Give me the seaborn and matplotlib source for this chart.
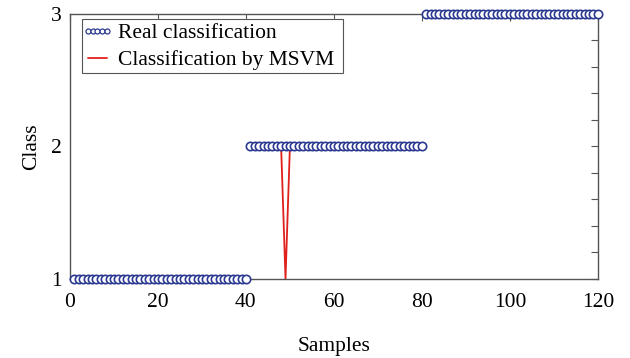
import matplotlib
matplotlib.use("Agg")
import matplotlib.pyplot as plt
import seaborn as sns
from matplotlib.lines import Line2D
from matplotlib.patches import Rectangle
from matplotlib.legend_handler import HandlerLine2D
from matplotlib.ticker import MultipleLocator, FixedLocator

# Data
samples = list(range(1, 121))
real_class = [1] * 40 + [2] * 40 + [3] * 40
msvm_class = [1] * 40 + [2] * 8 + [1] + [2] * 31 + [3] * 40
# the MSVM output is drawn as one line per true-class block
block = [1] * 40 + [2] * 40 + [3] * 40

sns.set_theme(style="white")
plt.rcParams['font.family'] = ['Liberation Serif', 'DejaVu Serif']
plt.rcParams['text.color'] = 'black'
plt.rcParams['axes.labelcolor'] = 'black'

fig = plt.figure(figsize=(6.3, 3.58), dpi=100)
ax = fig.add_axes([0.111, 0.221, 0.838, 0.740])

sns.lineplot(x=samples, y=msvm_class, units=block, estimator=None, ax=ax,
             color='#e0201b', linewidth=1.3, zorder=2)
sns.lineplot(x=samples, y=real_class, ax=ax, color='#2b3990', linestyle='',
             marker='o', markersize=6, markerfacecolor='white',
             markeredgecolor='#2b3990', markeredgewidth=1.2,
             zorder=3, clip_on=False)

ax.set_xlim(0, 120)
ax.set_ylim(1, 3)
ax.xaxis.set_major_locator(MultipleLocator(20))
ax.yaxis.set_major_locator(FixedLocator([1, 2, 3]))
ax.yaxis.set_minor_locator(MultipleLocator(0.2))
ax.tick_params(which='both', direction='in', top=True, right=True,
               length=5, width=0.8, color='#555555', labelsize=15.5,
               labelcolor='black', pad=10)
ax.tick_params(axis='y', pad=6)
for s in ax.spines.values():
    s.set_color('#555555')
    s.set_linewidth(1.0)

ax.set_xlabel('Samples', fontsize=15.5, labelpad=18)
ax.set_ylabel('Class', fontsize=15.5, labelpad=7)

# legend: rebuild handles from the two drawn series, frame drawn separately
line_real = ax.lines[-1]
line_msvm = ax.lines[0]
leg = ax.legend([line_real, line_msvm], ['Real classification', 'Classification by MSVM'],
                loc='upper left', bbox_to_anchor=(0.034, 0.966), numpoints=5,
                handlelength=0.88, handletextpad=0.51, fontsize=15.5,
                frameon=False, borderpad=0.0, labelspacing=0.34, borderaxespad=0.0,
                handler_map={Line2D: HandlerLine2D(marker_pad=0)})
leg.set_zorder(5)
leg.legend_handles[0].set_markersize(3.6)
leg.legend_handles[0].set_markeredgewidth(0.9)
ax.add_patch(Rectangle((0.0227, 0.7774), 0.4943, 0.2038, transform=ax.transAxes,
                       facecolor='white', edgecolor='#555555', linewidth=0.8,
                       zorder=4))

fig.savefig('out.png', dpi=100)
